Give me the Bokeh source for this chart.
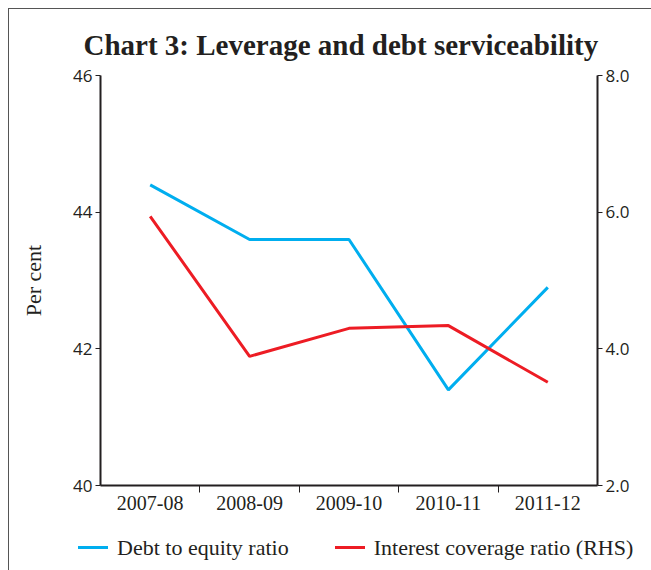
from bokeh.plotting import figure
from bokeh.layouts import column
from bokeh.models import (Range1d, LinearAxis, FixedTicker, NumeralTickFormatter, Div)
from bokeh.embed import file_html
from bokeh.resources import INLINE

categories = ["2007-08", "2008-09", "2009-10", "2010-11", "2011-12"]
debt_to_equity = [44.4, 43.6, 43.6, 41.4, 42.9]
interest_coverage = [5.94, 3.89, 4.30, 4.34, 3.51]
left_ticks = [40, 42, 44, 46]
right_ticks = [2.0, 4.0, 6.0, 8.0]
series_names = ["Debt to equity ratio", "Interest coverage ratio (RHS)"]

BLUE = "#00AEEF"
RED = "#ED1C24"
INK = "#231F20"
SANS = "Open Sans"
SERIF = "Liberation Serif"

xs = [i + 0.5 for i in range(len(categories))]
boundaries = [i for i in range(1, len(categories))]

p = figure(width=642, height=514, x_range=Range1d(0, len(categories)),
           y_range=Range1d(40, 46), output_backend="svg", toolbar_location=None,
           min_border_left=91, min_border_right=54, min_border_top=66,
           min_border_bottom=38, x_axis_type=None, y_axis_type=None)
p.outline_line_color = None
p.grid.visible = False
p.background_fill_color = "white"

p.title.text = "Chart 3: Leverage and debt serviceability"
p.title.text_font = SERIF
p.title.text_font_size = "29px"
p.title.text_font_style = "bold"
p.title.text_color = INK
p.title.align = "left"
p.title.standoff = 29
p.title.offset = -17

p.extra_y_ranges = {"rhs": Range1d(2, 8)}

# x axis
xaxis = LinearAxis(ticker=FixedTicker(ticks=xs, minor_ticks=boundaries))
xaxis.major_label_overrides = {x: c for x, c in zip(xs, categories)}
xaxis.major_tick_out = 0
xaxis.major_tick_in = 0
xaxis.minor_tick_out = 7
xaxis.minor_tick_in = 0
xaxis.minor_tick_line_color = INK
xaxis.axis_line_width = 2
xaxis.axis_line_color = INK
xaxis.major_label_text_font = SERIF
xaxis.major_label_text_font_size = "20px"
xaxis.major_label_text_color = INK
xaxis.major_label_standoff = 3
p.add_layout(xaxis, "below")

# left axis
laxis = LinearAxis(ticker=FixedTicker(ticks=left_ticks), axis_label="Per cent")
laxis.major_tick_out = 5
laxis.major_tick_in = 0
laxis.minor_tick_line_color = None
laxis.axis_line_width = 2
laxis.axis_line_color = INK
laxis.major_tick_line_color = INK
laxis.major_label_text_font = SANS
laxis.major_label_text_font_size = "17px"
laxis.major_label_text_color = INK
laxis.major_label_standoff = 3
laxis.axis_label_text_font = SERIF
laxis.axis_label_text_font_size = "22px"
laxis.axis_label_text_font_style = "normal"
laxis.axis_label_text_color = INK
laxis.axis_label_standoff = 24
p.add_layout(laxis, "left")

# right axis
raxis = LinearAxis(y_range_name="rhs", ticker=FixedTicker(ticks=right_ticks),
                   formatter=NumeralTickFormatter(format="0.0"))
raxis.major_tick_out = 5
raxis.major_tick_in = 0
raxis.minor_tick_line_color = None
raxis.axis_line_width = 2
raxis.axis_line_color = INK
raxis.major_tick_line_color = INK
raxis.major_label_text_font = SANS
raxis.major_label_text_font_size = "17px"
raxis.major_label_text_color = INK
raxis.major_label_standoff = 3
p.add_layout(raxis, "right")

p.line(xs, debt_to_equity, line_color=BLUE, line_width=3)
p.line(xs, interest_coverage, line_color=RED, line_width=3, y_range_name="rhs")

# legend strip below the chart
def swatch(color, left_gap):
    return (f'<span style="display:inline-block;width:30px;height:3px;'
            f'background:{color};margin-left:{left_gap}px;margin-right:9px"></span>')

legend_html = (
    f'<div style="display:flex;align-items:center;height:47px;padding-left:69px;'
    f'padding-top:2px;box-sizing:border-box;font-family:\'{SERIF}\';font-size:22px;'
    f'color:{INK};white-space:nowrap">'
    f'{swatch(BLUE, 0)}<span>{series_names[0]}</span>'
    f'{swatch(RED, 46)}<span>{series_names[1]}</span></div>'
)
leg = Div(text=legend_html, width=642, height=47, margin=(0, 0, 0, 0))

layout = column(p, leg, spacing=0)
layout.styles = {"border-left": "1px solid #555", "border-top": "1px solid #555",
                 "margin-left": "8px", "margin-top": "8px"}

open("out.html", "w").write(file_html(layout, INLINE))
